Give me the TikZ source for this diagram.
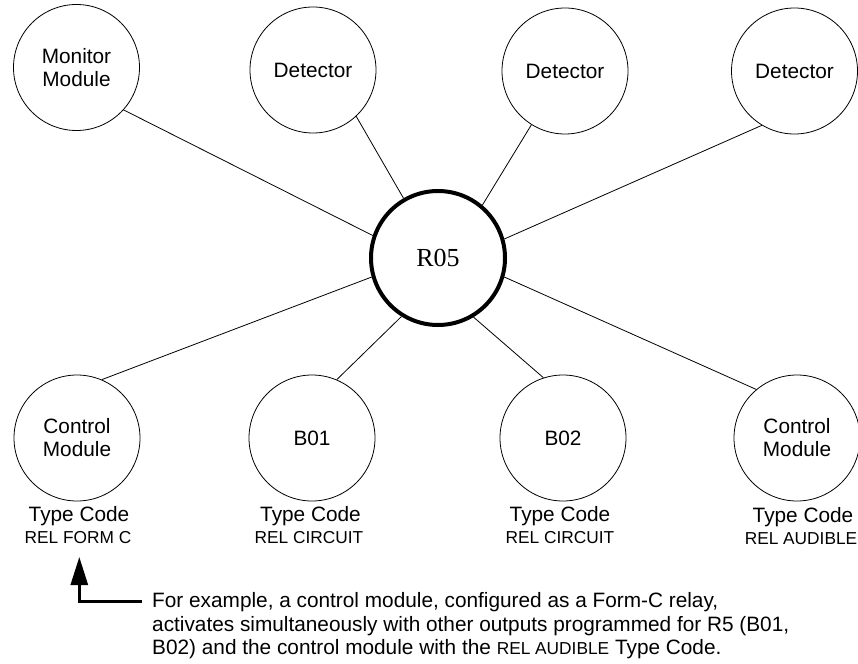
\documentclass[tikz,border=0pt]{standalone}
\usepackage{fontspec}
\setmainfont{Liberation Sans}
\newfontfamily\timesfont{Liberation Serif}
\usetikzlibrary{arrows.meta}
\begin{document}
\begin{tikzpicture}[x=1pt,y=-1pt,
  dev/.style={draw, circle, line width=0.8pt, minimum size=126pt, inner sep=0pt, align=center, font=\fontsize{20.8}{23}\selectfont},
  hub/.style={draw, circle, line width=4pt, minimum size=134pt, inner sep=0pt, font=\timesfont\fontsize{26}{30}\selectfont},
  link/.style={line width=0.8pt},
  tc/.style={font=\fontsize{20.8}{23}\selectfont, inner sep=0pt},
  rel/.style={font=\fontsize{17.3}{20}\selectfont, inner sep=0pt},
  note/.style={font=\fontsize{20.8}{23.5}\selectfont, inner sep=0pt, align=left, anchor=north west},
  pointer/.style={line width=2.8pt, -{Triangle[length=28pt,width=17pt]}}
]
\useasboundingbox (0,0) rectangle (858,663);
% top row
\node[dev] (mon) at (76.5,67.5) {Monitor\\Module};
\node[dev] (d1) at (313,70) {Detector};
\node[dev] (d2) at (565,71) {Detector};
\node[dev] (d3) at (794.5,71) {Detector};
% hub
\node[hub] (r) at (438,258) {R05};
% bottom row
\node[dev] (c1) at (77,438) {Control\\Module};
\node[dev] (b1) at (312,438) {B01};
\node[dev] (b2) at (563,438) {B02};
\node[dev] (c2) at (797,438) {Control\\Module};
% links
\draw[link] (mon.-42) -- (r.161.6);
\draw[link] (d1.-47) -- (r.120);
\draw[link] (d2.-122) -- (r.50);
\draw[link] (d3.-121) -- (r.16.6);
\draw[link] (c1.67) -- (r.196);
\draw[link] (b1.67) -- (r.238.6);
\draw[link] (b2.108) -- (r.-59);
\draw[link] (c2.130) -- (r.-16);
% type codes
\node[tc] (t1) at (79,516) {Type Code};
\node[rel] (r1) at (78,538) {REL FORM C};
\node[tc] (t2) at (310.5,516) {Type Code};
\node[rel] (r2) at (309,538) {REL CIRCUIT};
\node[tc] (t3) at (560,516) {Type Code};
\node[rel] (r3) at (560,538) {REL CIRCUIT};
\node[tc] (t4) at (803,517) {Type Code};
\node[rel] (r4) at (801,539) {REL AUDIBLE};
% note
\node[note] (n) at (152,592.5) {For example, a control module, configured as a Form-C relay,\\activates simultaneously with other outputs programmed for R5 (B01,\\B02) and the control module with the {\fontsize{17.3}{23.5}\selectfont REL AUDIBLE} Type Code.};
\coordinate (ae) at (142,601.5);
\coordinate (tip) at (79.3,557);
\draw[pointer] (ae) -| (tip);
\end{tikzpicture}
\end{document}
